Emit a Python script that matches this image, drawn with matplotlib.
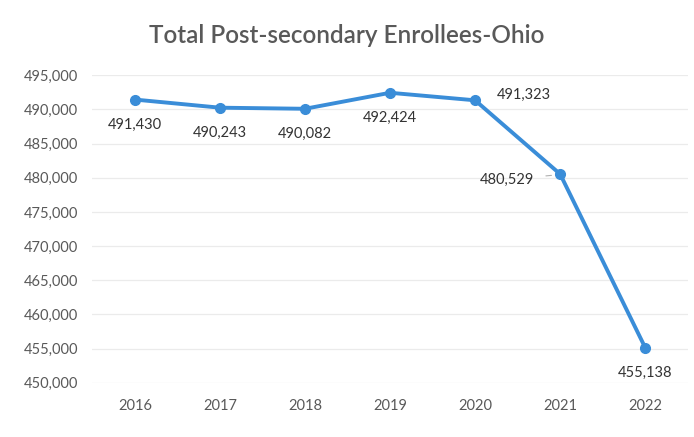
import numpy as np
import matplotlib.pyplot as plt
from matplotlib.ticker import FuncFormatter

years = ["2016", "2017", "2018", "2019", "2020", "2021", "2022"]
enrollees = [491430, 490243, 490082, 492424, 491323, 480529, 455138]
# where each data label sits relative to its point (dx, dy in points)
label_offsets = [(0, -18), (0, -18), (0, -18), (0, -18), (35, 4), (-38, -4), (0, -18)]

plt.rcParams['font.family'] = ['Lato', 'DejaVu Sans']

fig = plt.figure(figsize=(6.94, 4.37), dpi=100)
ax = fig.add_axes([0.133, 0.124, 0.858, 0.704])

x = np.arange(len(years))
line_color = '#3A8DD8'
ax.plot(x, enrollees, '-o', color=line_color, linewidth=2.8,
        markersize=7, markerfacecolor=line_color, markeredgecolor=line_color, zorder=3)

for i, v in enumerate(enrollees):
    dx, dy = label_offsets[i]
    ax.annotate(f"{v:,}", (x[i], v), xytext=(dx, dy), textcoords='offset points',
                ha='center', va='center', fontsize=10.5, color='#333333')
# short leader line for the 2021 label
ax.annotate("", (x[5] - 0.07, enrollees[5] - 150), xytext=(x[5] - 0.2, enrollees[5] - 300),
            arrowprops=dict(arrowstyle='-', color='#b0b0b0', lw=0.8))

ax.set_xlim(-0.5, len(years) - 0.5)
ax.set_ylim(450000, 495000)
ax.set_yticks(np.arange(450000, 495001, 5000))
ax.yaxis.set_major_formatter(FuncFormatter(lambda v, p: f"{int(v):,}"))
ax.set_xticks(x)
ax.set_xticklabels(years)
ax.tick_params(axis='both', length=0, labelsize=10.5, labelcolor='#595959')
ax.tick_params(axis='x', pad=12)
ax.tick_params(axis='y', pad=10)
ax.grid(axis='y', color='#ebebeb', linewidth=0.9)
ax.set_axisbelow(True)
for s in ax.spines.values():
    s.set_visible(False)

fig.text(0.5, 0.918, "Total Post-secondary Enrollees-Ohio", ha='center', va='center',
         fontsize=17.5, fontweight='semibold', color='#595959')

fig.savefig("out.png", dpi=100)
